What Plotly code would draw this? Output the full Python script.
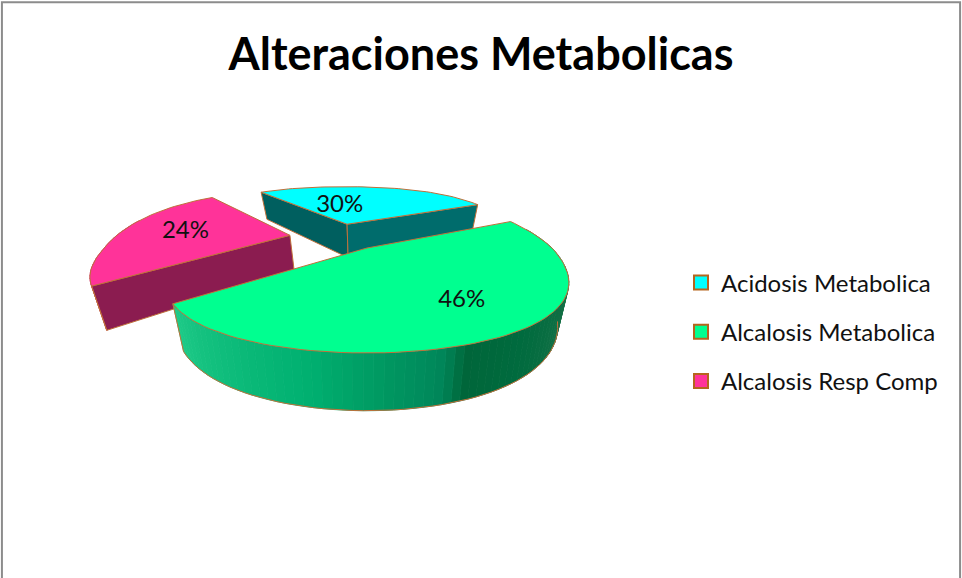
import numpy as np
import plotly.graph_objects as go

# ---------------- data ----------------
labels = ["Acidosis Metabolica", "Alcalosis Metabolica", "Alcalosis Resp Comp"]
values = [30, 46, 24]
pct_text = ["30%", "46%", "24%"]
title_text = "Alteraciones Metabolicas"

# ---------------- style ----------------
top_colors = ["#00FFFF", "#00FF90", "#FF3399"]
wall_colors = ["#007070", None, "#DC3088"]          # None -> gradient
face_colors_a1 = ["#005F5F", "#0A8050", "#8B1C50"]
face_colors_a2 = ["#006C6C", "#0A8050", "#8B1C50"]
edge_color = "#C0703A"
green_grad = [(217, "#1FCB88"), (259, "#00B070"), (272, "#009A62"), (284, "#00875A"),
              (287, "#007A4C"), (289.5, "#00663A"), (304, "#006B3E"), (328, "#147046"),
              (337, "#1A7048")]

W, H = 962, 578
START = 131.0                       # first slice starts here, clockwise
CX, CY = 367.0, 248.0
S, K, Q = 185.0, 0.4276, 8.0
ALPHA = -0.06
BX, BY, BH = 0.4, 0.3, 0.35
SHR = 0.055
THICK = 37.5
explode = [(-0.102, 0.345), (0.0, 0.0), (-0.435, 0.172)]
label_spec = [(20.0, 0.37), (4.0, 0.70), (1.6, 0.62)]   # (angle offset from mid, radius)
draw_order = [0, 2, 1]
FONT = "Lato"


def proj(u, v, top=True):
    x = CX + S * (u + ALPHA * max(v, 0.0)) / (1 + BX * v)
    y = CY - (S * K * v / (1 + BY * v) - Q * v * abs(v))
    if not top:
        x = CX + (x - CX) * (1 - SHR)
        y = y + THICK / (1 + BH * v)
    return x, y


def hex2rgb(h):
    h = h.lstrip("#")
    return tuple(int(h[i:i + 2], 16) for i in (0, 2, 4))


def grad_color(theta):
    t = theta % 360
    if t < 90:
        t += 360
    stops = green_grad
    if t <= stops[0][0]:
        return stops[0][1]
    for (a, ca), (b, cb) in zip(stops[:-1], stops[1:]):
        if a <= t <= b:
            f = (t - a) / (b - a)
            r1, g1, b1 = hex2rgb(ca)
            r2, g2, b2 = hex2rgb(cb)
            return "#%02X%02X%02X" % (round(r1 + (r2 - r1) * f), round(g1 + (g2 - g1) * f),
                                      round(b1 + (b2 - b1) * f))
    return stops[-1][1]


total = float(sum(values))
angles = []
acc = 0.0
for v in values:
    a1 = START - acc / total * 360.0
    a2 = a1 - v / total * 360.0
    angles.append((a1, a2))
    acc += v


def pt(i, theta_deg, r=1.0, top=True):
    ou, ov = explode[i]
    th = np.radians(theta_deg)
    return proj(ou + r * np.cos(th), ov + r * np.sin(th), top)


fig = go.Figure()


def poly(xs, ys, fill, line_color=None, lw=1.0):
    xs = list(xs) + [xs[0]]
    ys = list(ys) + [ys[0]]
    fig.add_trace(go.Scatter(x=xs, y=ys, mode="lines", fill="toself", fillcolor=fill,
                             line=dict(color=line_color or fill, width=lw),
                             hoverinfo="skip", showlegend=False))


def line(xs, ys, color=edge_color, lw=1.0):
    fig.add_trace(go.Scatter(x=xs, y=ys, mode="lines", line=dict(color=color, width=lw),
                             hoverinfo="skip", showlegend=False))


for i in draw_order:
    a1, a2 = angles[i]
    n = int(abs(a1 - a2) / 2.0) + 2
    ths = np.linspace(a1, a2, n)
    # outer wall segments, back to front
    segs = []
    for ta, tb in zip(ths[:-1], ths[1:]):
        tm = np.radians((ta + tb) / 2)
        if np.sin(tm) > 0.25:
            continue
        segs.append((np.sin(tm), ta, tb))
    segs.sort(key=lambda s: -s[0])
    for sm, ta, tb in segs:
        xa, ya = pt(i, ta)
        xb, yb = pt(i, tb)
        xc, yc = pt(i, tb, top=False)
        xd, yd = pt(i, ta, top=False)
        col = wall_colors[i] if wall_colors[i] else grad_color((ta + tb) / 2)
        poly([xa, xb, xc, xd], [ya, yb, yc, yd], col, col, 0.8)
    # bottom outline of the visible wall
    vis = [t for t in ths if np.sin(np.radians(t)) < -0.33]
    if len(vis) > 1:
        pts = [pt(i, t, top=False) for t in vis]
        line([p[0] for p in pts], [p[1] for p in pts])
    # radial faces
    vt = proj(explode[i][0], explode[i][1], True)
    vb = proj(explode[i][0], explode[i][1], False)
    for a, visible, fc in ((a1, np.cos(np.radians(a1)) < 0, face_colors_a1[i]),
                           (a2, np.cos(np.radians(a2)) > 0, face_colors_a2[i])):
        if visible:
            et = pt(i, a)
            eb = pt(i, a, top=False)
            poly([vt[0], et[0], eb[0], vb[0]], [vt[1], et[1], eb[1], vb[1]], fc, edge_color, 1.0)
    # vertical edges at wall ends
    for a in (a1, a2):
        if np.sin(np.radians(a)) < -0.4:
            et = pt(i, a)
            eb = pt(i, a, top=False)
            line([et[0], eb[0]], [et[1], eb[1]])
    # top face
    arc = [pt(i, t) for t in ths]
    xs = [vt[0]] + [p[0] for p in arc]
    ys = [vt[1]] + [p[1] for p in arc]
    poly(xs, ys, top_colors[i], edge_color, 1.0)

# percentage labels
lx, ly = [], []
for i in range(len(values)):
    a1, a2 = angles[i]
    off, r = label_spec[i]
    x, y = pt(i, (a1 + a2) / 2 + off, r)
    lx.append(x)
    ly.append(y)
fig.add_trace(go.Scatter(x=lx, y=ly, mode="text", text=pct_text,
                         textfont=dict(family=FONT, size=24, color="#111111"),
                         hoverinfo="skip", showlegend=False))

# legend entries
for i, lab in enumerate(labels):
    fig.add_trace(go.Scatter(x=[None], y=[None], mode="markers", name=lab,
                             legendgroup=lab,
                             marker=dict(symbol="square", size=14, color=top_colors[i],
                                         line=dict(color="#B5651D", width=2))))

fig.update_layout(
    width=W, height=H,
    margin=dict(l=0, r=0, t=0, b=0),
    paper_bgcolor="white", plot_bgcolor="white",
    xaxis=dict(range=[0, W], visible=False, fixedrange=True),
    yaxis=dict(range=[H, 0], visible=False, fixedrange=True),
    title=dict(text=title_text, x=0.5, xanchor="center", y=1 - 54 / H, yanchor="middle",
               font=dict(family=FONT, size=45, color="black", weight="bold")),
    legend=dict(x=681 / W, xanchor="left", y=1 - 332 / H, yanchor="middle",
                font=dict(family=FONT, size=24, color="#111111"),
                tracegroupgap=15, bgcolor="rgba(0,0,0,0)", itemclick=False),
    shapes=[dict(type="rect", xref="paper", yref="paper", x0=0.002, y0=-0.05, x1=0.998, y1=0.996,
                 line=dict(color="#8C8C8C", width=2))],
    showlegend=True,
)

fig.write_html("out.html")
